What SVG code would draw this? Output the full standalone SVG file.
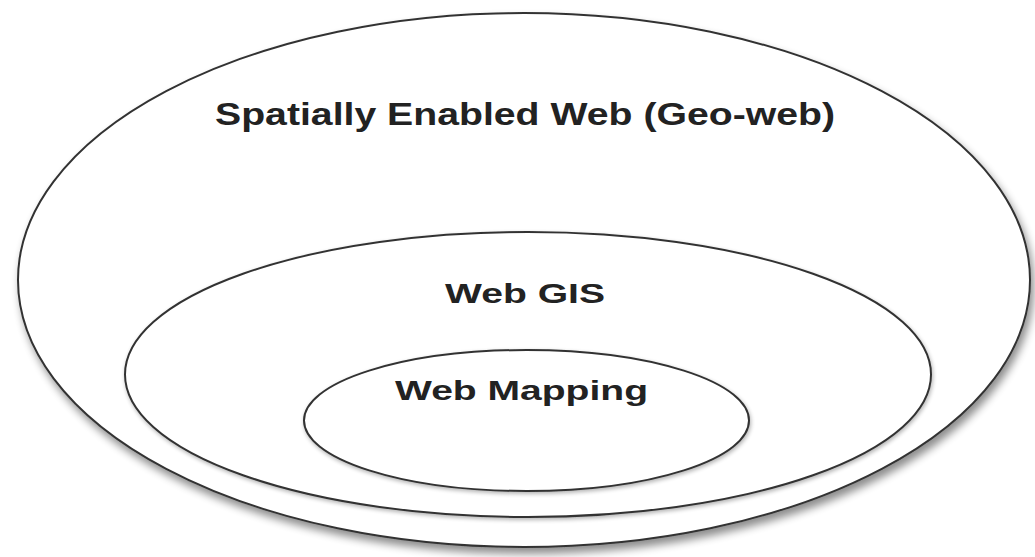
<svg xmlns="http://www.w3.org/2000/svg" width="1035" height="557" viewBox="0 0 1035 557">
  <style>
    .ring { fill: #ffffff; stroke: #333333; stroke-width: 2; }
    .label { font-family: "Liberation Sans", Arial, sans-serif; font-weight: bold; fill: #222222; text-anchor: middle; }
  </style>
  <defs>
    <filter id="shadow" x="-10%" y="-10%" width="120%" height="125%">
      <feGaussianBlur in="SourceAlpha" stdDeviation="4"/>
      <feOffset dx="3" dy="6" result="b"/>
      <feComponentTransfer><feFuncA type="linear" slope="0.45"/></feComponentTransfer>
      <feMerge><feMergeNode/><feMergeNode in="SourceGraphic"/></feMerge>
    </filter>
    <filter id="shadowSmall" x="-10%" y="-10%" width="120%" height="130%">
      <feGaussianBlur in="SourceAlpha" stdDeviation="2"/>
      <feOffset dx="1" dy="2" result="b"/>
      <feComponentTransfer><feFuncA type="linear" slope="0.3"/></feComponentTransfer>
      <feMerge><feMergeNode/><feMergeNode in="SourceGraphic"/></feMerge>
    </filter>
  </defs>
  <rect width="1035" height="557" fill="#ffffff"/>
  <g id="geo-web">
    <ellipse class="ring" cx="524" cy="280" rx="506" ry="267" filter="url(#shadow)"/>
    <text class="label" x="525" y="125" font-size="32" textLength="620" lengthAdjust="spacingAndGlyphs">Spatially Enabled Web (Geo-web)</text>
  </g>
  <g id="web-gis">
    <ellipse class="ring" cx="528" cy="374.5" rx="403" ry="142.5" filter="url(#shadowSmall)"/>
    <text class="label" x="525" y="303" font-size="28" textLength="160" lengthAdjust="spacingAndGlyphs">Web GIS</text>
  </g>
  <g id="web-mapping">
    <ellipse class="ring" cx="526.5" cy="420.5" rx="222.5" ry="70.5" filter="url(#shadowSmall)"/>
    <text class="label" x="521.5" y="400" font-size="28" textLength="253" lengthAdjust="spacingAndGlyphs">Web Mapping</text>
  </g>
  <g id="connectors"></g>
</svg>
